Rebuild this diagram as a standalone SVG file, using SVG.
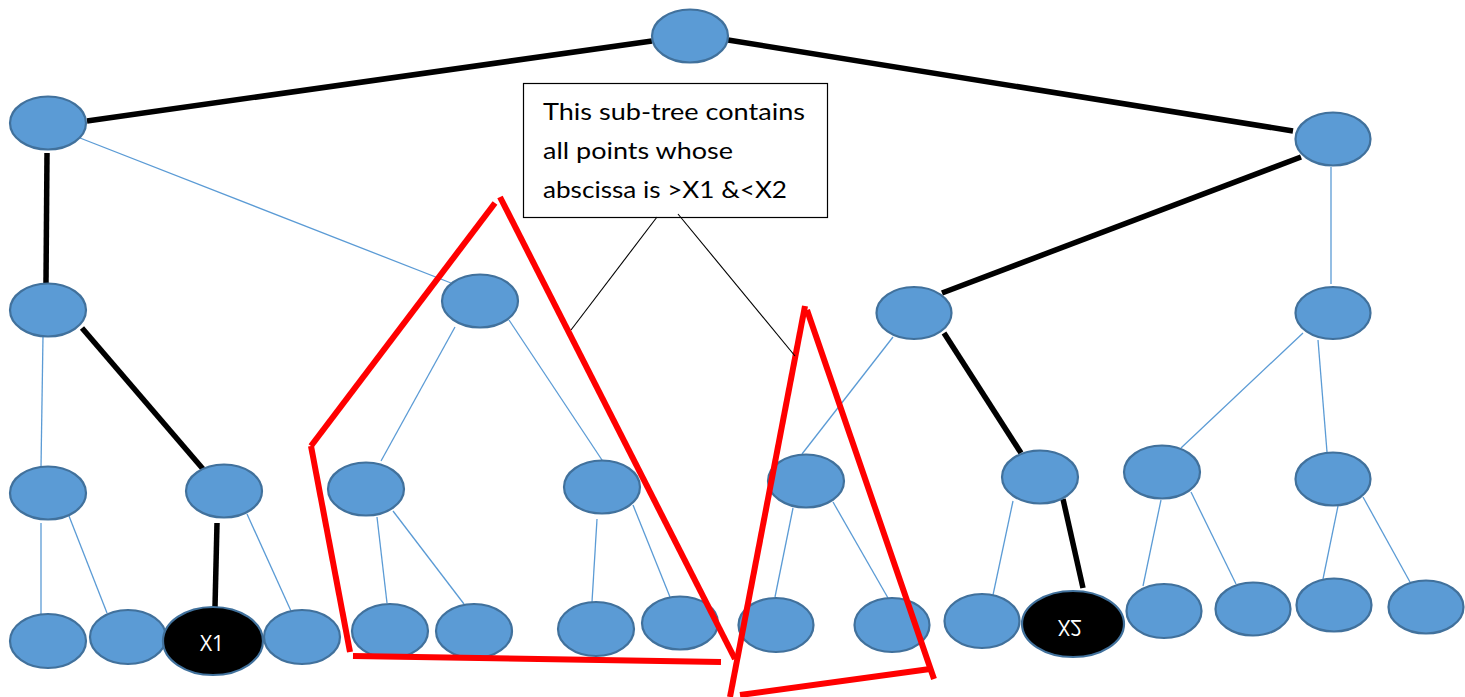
<svg xmlns="http://www.w3.org/2000/svg" width="1465" height="697" viewBox="0 0 1465 697">
  <style>
    .node { fill: #5B9BD5; stroke: #41719C; stroke-width: 2.2; }
    .hit { fill: #000000; stroke: #41719C; stroke-width: 2.2; }
    .edge { stroke: #5B9BD5; stroke-width: 1.3; fill: none; }
    .path { stroke: #000000; stroke-width: 5.5; fill: none; }
    .range { stroke: #FF0000; stroke-width: 6; fill: none; }
    .pointer { stroke: #000000; stroke-width: 1.1; fill: none; }
    .lbl { font-family: "Open Sans", "Liberation Sans", sans-serif; font-size: 21px; fill: #FFFFFF; text-anchor: middle; }
    .note { font-family: Lato, "Liberation Sans", sans-serif; font-size: 23px; fill: #000000; }
  </style>

  <rect width="1465" height="697" fill="#FFFFFF"/>

  <!-- tree edges: thin blue, search path in thick black -->
  <g id="connectors">
    <line class="edge" x1="80" y1="138" x2="451" y2="283"/>
    <line class="edge" x1="43" y1="336" x2="41" y2="467"/>
    <line class="edge" x1="69" y1="516" x2="107" y2="613"/>
    <line class="edge" x1="41" y1="523" x2="41" y2="614"/>
    <line class="edge" x1="247" y1="514" x2="291" y2="611"/>
    <line class="edge" x1="455" y1="327" x2="381" y2="461"/>
    <line class="edge" x1="509" y1="320" x2="602" y2="460"/>
    <line class="edge" x1="377" y1="517" x2="387" y2="603"/>
    <line class="edge" x1="393" y1="511" x2="464" y2="604"/>
    <line class="edge" x1="597" y1="519" x2="592" y2="602"/>
    <line class="edge" x1="633" y1="505" x2="670" y2="597"/>
    <line class="edge" x1="893" y1="337" x2="802" y2="454"/>
    <line class="edge" x1="793" y1="508" x2="775" y2="597"/>
    <line class="edge" x1="833" y1="502" x2="888" y2="598"/>
    <line class="edge" x1="1013" y1="501" x2="993" y2="595"/>
    <line class="edge" x1="1331" y1="167" x2="1331" y2="284"/>
    <line class="edge" x1="1303" y1="333" x2="1181" y2="448"/>
    <line class="edge" x1="1318" y1="340" x2="1327" y2="452"/>
    <line class="edge" x1="1161" y1="500" x2="1143" y2="586"/>
    <line class="edge" x1="1191" y1="492" x2="1236" y2="584"/>
    <line class="edge" x1="1338" y1="506" x2="1323" y2="579"/>
    <line class="edge" x1="1363" y1="497" x2="1410" y2="582"/>

    <line class="path" x1="87" y1="121" x2="652" y2="41"/>
    <line class="path" x1="728" y1="40" x2="1293" y2="131"/>
    <line class="path" x1="47" y1="153" x2="46" y2="283"/>
    <line class="path" x1="82" y1="328" x2="203" y2="469"/>
    <line class="path" x1="217" y1="523" x2="215" y2="607"/>
    <line class="path" x1="1301" y1="157" x2="942" y2="293"/>
    <line class="path" x1="944" y1="333" x2="1021" y2="453"/>
    <line class="path" x1="1063" y1="499" x2="1083" y2="588"/>
  </g>

  <!-- level 0 -->
  <g id="n-root"><ellipse class="node" cx="690" cy="36" rx="38" ry="26.5"/></g>
  <!-- level 1 -->
  <g id="n-l"><ellipse class="node" cx="48" cy="123" rx="38" ry="26.5"/></g>
  <g id="n-r"><ellipse class="node" cx="1333" cy="139" rx="37.5" ry="26.5"/></g>
  <!-- level 2 -->
  <g id="n-ll"><ellipse class="node" cx="48" cy="310" rx="38" ry="26.5"/></g>
  <g id="n-lr"><ellipse class="node" cx="480" cy="301" rx="38" ry="26.5"/></g>
  <g id="n-rl"><ellipse class="node" cx="914" cy="313" rx="37.5" ry="26"/></g>
  <g id="n-rr"><ellipse class="node" cx="1333" cy="313" rx="37.5" ry="26"/></g>
  <!-- level 3 -->
  <g id="n-lll"><ellipse class="node" cx="48" cy="493" rx="38" ry="26.5"/></g>
  <g id="n-llr"><ellipse class="node" cx="224" cy="491" rx="38" ry="26.5"/></g>
  <g id="n-lrl"><ellipse class="node" cx="366" cy="489" rx="38" ry="26.5"/></g>
  <g id="n-lrr"><ellipse class="node" cx="602" cy="487" rx="38" ry="26.5"/></g>
  <g id="n-rll"><ellipse class="node" cx="806" cy="481" rx="38" ry="26.5"/></g>
  <g id="n-rlr"><ellipse class="node" cx="1040" cy="477" rx="38" ry="26.5"/></g>
  <g id="n-rrl"><ellipse class="node" cx="1162" cy="472" rx="38" ry="26.5"/></g>
  <g id="n-rrr"><ellipse class="node" cx="1333" cy="479" rx="37.5" ry="26.5"/></g>
  <!-- leaves -->
  <g id="leaf-1"><ellipse class="node" cx="48" cy="641" rx="38" ry="27"/></g>
  <g id="leaf-2"><ellipse class="node" cx="128" cy="637" rx="38" ry="27"/></g>
  <g id="leaf-x1">
    <ellipse class="hit" cx="213" cy="641" rx="50" ry="34"/>
    <text class="lbl" x="212" y="651">X1</text>
  </g>
  <g id="leaf-4"><ellipse class="node" cx="302" cy="637" rx="38" ry="27"/></g>
  <g id="leaf-5"><ellipse class="node" cx="390" cy="631" rx="38" ry="27"/></g>
  <g id="leaf-6"><ellipse class="node" cx="474" cy="631" rx="38" ry="27"/></g>
  <g id="leaf-7"><ellipse class="node" cx="596" cy="629" rx="38" ry="27"/></g>
  <g id="leaf-8"><ellipse class="node" cx="680" cy="623" rx="38" ry="26.5"/></g>
  <g id="leaf-9"><ellipse class="node" cx="776" cy="625" rx="37.5" ry="27"/></g>
  <g id="leaf-10"><ellipse class="node" cx="892" cy="625" rx="37.5" ry="27"/></g>
  <g id="leaf-11"><ellipse class="node" cx="982" cy="621" rx="37.5" ry="27"/></g>
  <g id="leaf-x2">
    <ellipse class="hit" cx="1073" cy="624" rx="51" ry="33"/>
    <text class="lbl" x="1070" y="636" transform="translate(0 1256) scale(1 -1)">X2</text>
  </g>
  <g id="leaf-13"><ellipse class="node" cx="1164" cy="611" rx="37.5" ry="27"/></g>
  <g id="leaf-14"><ellipse class="node" cx="1253" cy="609" rx="37.5" ry="26.5"/></g>
  <g id="leaf-15"><ellipse class="node" cx="1334" cy="605" rx="37.5" ry="26.5"/></g>
  <g id="leaf-16"><ellipse class="node" cx="1426" cy="607" rx="37.5" ry="26.5"/></g>

  <!-- red outlines around the selected sub-trees -->
  <g id="ranges">
    <line class="range" x1="495" y1="203" x2="311" y2="446"/>
    <line class="range" x1="311" y1="446" x2="350" y2="652"/>
    <line class="range" x1="500" y1="197" x2="735" y2="659"/>
    <line class="range" x1="353" y1="656" x2="721" y2="662"/>
    <line class="range" x1="805" y1="306" x2="730" y2="697"/>
    <line class="range" x1="807" y1="310" x2="934" y2="679"/>
    <line class="range" x1="740" y1="695" x2="930" y2="669"/>
  </g>

  <!-- annotation box with its two pointers -->
  <g id="note">
    <rect x="523.5" y="83.5" width="304" height="134" fill="#FFFFFF" stroke="#000000" stroke-width="1.2"/>
    <text class="note" x="543" y="120" textLength="262" lengthAdjust="spacingAndGlyphs">This sub-tree contains</text>
    <text class="note" x="543" y="159" textLength="190" lengthAdjust="spacingAndGlyphs">all points whose</text>
    <text class="note" x="543" y="198" textLength="244" lengthAdjust="spacingAndGlyphs">abscissa is &gt;X1 &amp;&lt;X2</text>
    <line class="pointer" x1="657" y1="217" x2="571" y2="330"/>
    <line class="pointer" x1="678" y1="214" x2="795" y2="356"/>
  </g>
</svg>
